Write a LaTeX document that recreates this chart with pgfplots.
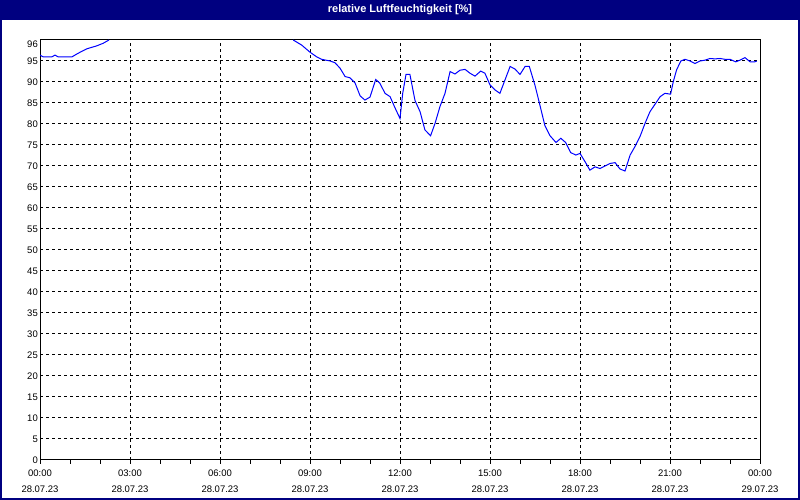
\documentclass[border=0pt]{standalone}
\usepackage{fontspec}
\setmainfont{Liberation Sans}
\usepackage{pgfplots}
\pgfplotsset{compat=1.18}
\definecolor{navy}{RGB}{0,0,128}
\definecolor{lineblue}{RGB}{0,0,255}
\begin{document}
\begin{tikzpicture}[x=1pt,y=1pt]
\fill[navy] (0,0) rectangle (800,500);
\fill[white] (2,2) rectangle (798,480);
\node[text=white, font=\bfseries\fontsize{11}{13}\selectfont, inner sep=0pt] at (400,490.5) {relative Luftfeuchtigkeit [\%]};
\begin{axis}[
  at={(40pt,40pt)}, anchor=south west,
  scale only axis, width=720pt, height=420pt,
  xmin=0, xmax=24, ymin=0, ymax=100,
  axis line style={black, line width=1pt},
  xtick={0,3,...,24},
  xticklabels={{00:00\\28.07.23},{03:00\\28.07.23},{06:00\\28.07.23},{09:00\\28.07.23},{12:00\\28.07.23},{15:00\\28.07.23},{18:00\\28.07.23},{21:00\\28.07.23},{00:00\\29.07.23}},
  minor x tick num=2,
  ytick={0,5,...,95},
  extra y ticks={99}, extra y tick labels={96},
  extra y tick style={grid=none},
  grid=major,
  major grid style={black, dash pattern=on 3pt off 3pt, line width=1pt},
  tick pos=left,
  xtick align=outside,
  major tick length=4pt, minor tick length=4pt,
  x tick style={black, line width=1pt},
  y tick style={draw=none},
  tick label style={font=\fontsize{9.5}{16}\selectfont, inner sep=0pt},
  xticklabel style={align=center, yshift=-6pt},
  yticklabel style={anchor=east, xshift=-2pt},
  /pgf/number format/assume math mode=true,
  clip=true,
]
\addplot[lineblue, line width=1pt] coordinates {
(0,96.4) (0.1,96.0) (0.4,96.0) (0.5,96.4) (0.6,96.0) (1.07,96.0) (1.26,96.8) (1.56,97.9) (1.89,98.6) (2.1,99.2) (2.3,100)
};
\addplot[lineblue, line width=1pt] coordinates {
(8.44,100) (8.72,98.8) (9.0,97.1) (9.22,96.0) (9.39,95.4) (9.67,95.0) (9.83,94.6) (10.0,93.3) (10.17,91.3) (10.33,91.0) (10.5,89.8) (10.67,86.7) (10.83,85.7) (11.0,86.4) (11.19,90.6) (11.33,89.7) (11.5,87.3) (11.67,86.5) (11.83,83.9) (12.0,81.3) (12.09,87.3) (12.2,91.8) (12.33,91.8) (12.5,85.6) (12.67,82.9) (12.83,78.6) (13.02,77.2) (13.17,80.2) (13.33,84.1) (13.5,87.3) (13.67,92.5) (13.83,91.9) (14.0,92.8) (14.17,93.0) (14.33,92.1) (14.5,91.4) (14.69,92.6) (14.83,92.1) (15.0,89.3) (15.17,88.1) (15.33,87.3) (15.5,90.5) (15.67,93.7) (15.83,93.1) (16.0,91.8) (16.17,93.7) (16.31,93.7) (16.5,89.2) (16.67,84.3) (16.83,79.6) (17.0,77.2) (17.2,75.6) (17.36,76.6) (17.52,75.6) (17.69,73.2) (17.86,72.6) (18.0,73.0) (18.17,71.0) (18.33,69.0) (18.5,69.8) (18.67,69.4) (18.83,70.0) (19.0,70.6) (19.17,70.8) (19.33,69.3) (19.5,68.8) (19.67,72.6) (19.83,74.6) (20.0,77.0) (20.17,80.2) (20.33,82.9) (20.5,84.7) (20.67,86.5) (20.83,87.3) (21.02,87.1) (21.11,90.1) (21.22,92.9) (21.36,95.0) (21.5,95.4) (21.67,95.0) (21.83,94.4) (22.0,95.0) (22.17,95.2) (22.33,95.6) (22.5,95.5) (22.67,95.6) (22.83,95.4) (23.0,95.4) (23.19,94.8) (23.33,95.2) (23.5,95.8) (23.67,94.8) (23.83,94.8) (23.89,95.0)
};
\end{axis}
\pgfresetboundingbox
\path[use as bounding box] (0,0) rectangle (800,500);
\end{tikzpicture}
\end{document}
